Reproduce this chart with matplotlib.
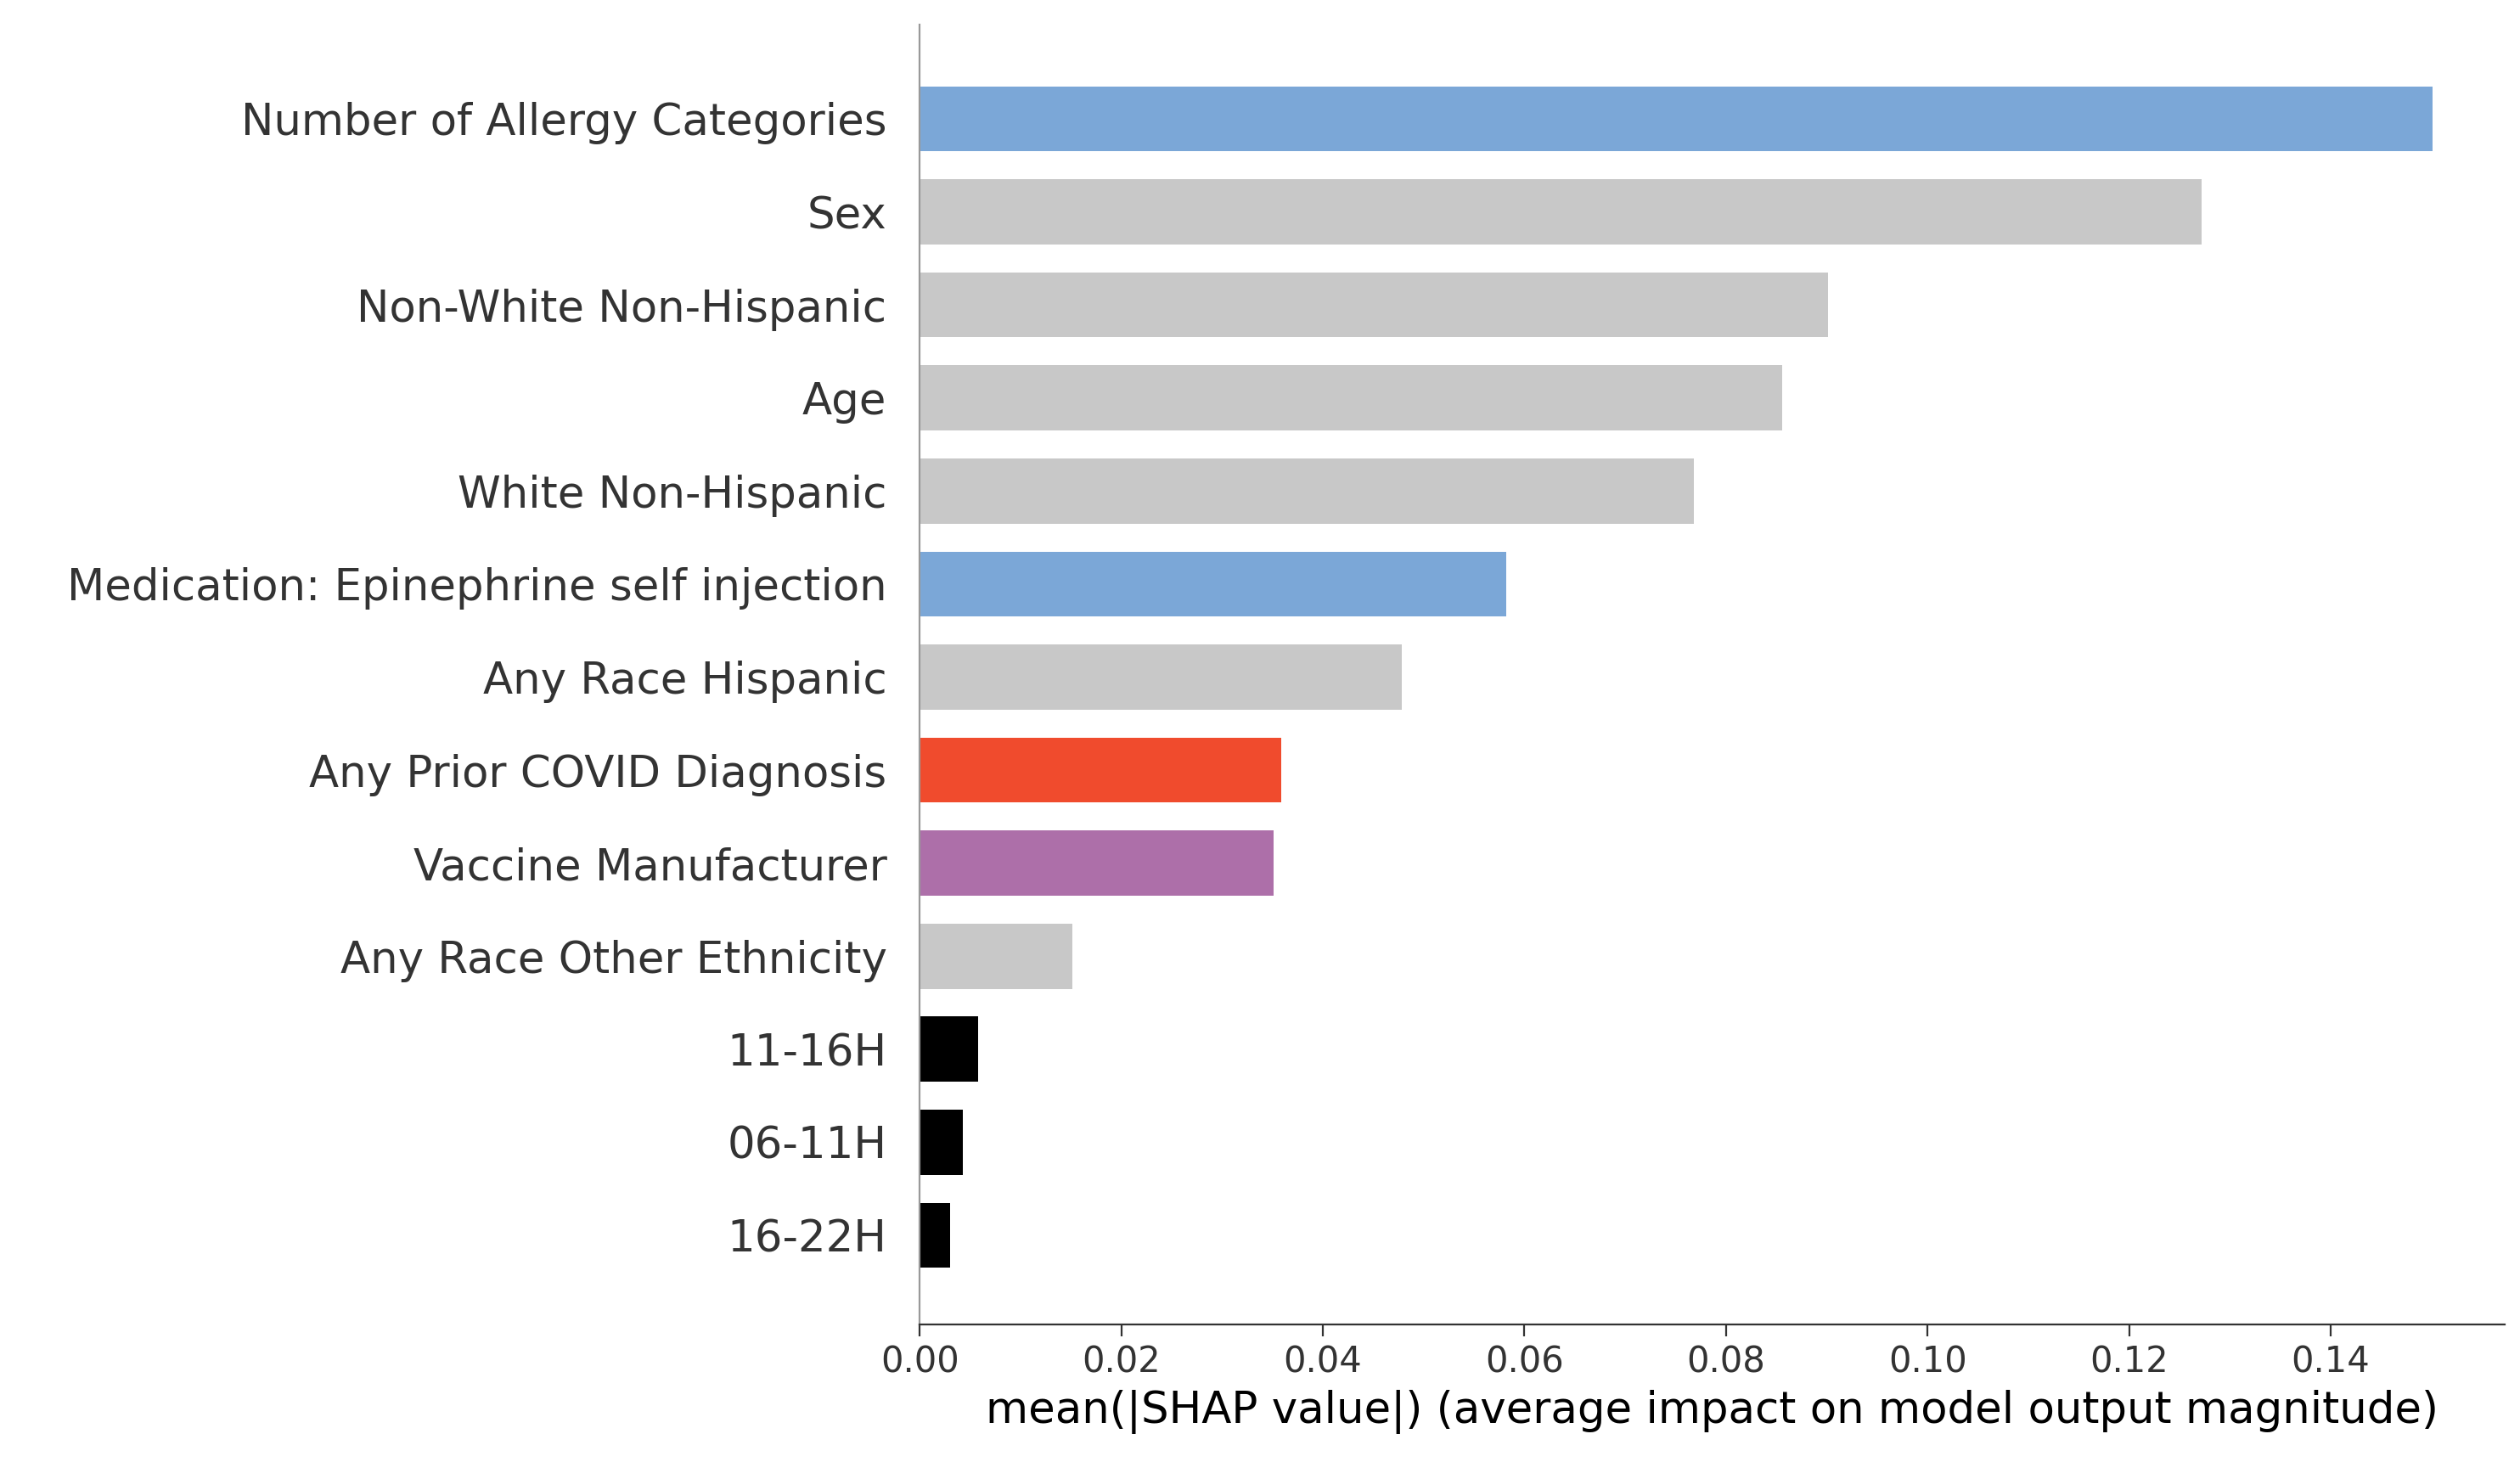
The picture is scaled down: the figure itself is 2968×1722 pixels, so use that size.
import matplotlib
matplotlib.use("Agg")
import matplotlib.pyplot as plt

features = ["Number of Allergy Categories", "Sex", "Non-White Non-Hispanic", "Age",
            "White Non-Hispanic", "Medication: Epinephrine self injection", "Any Race Hispanic",
            "Any Prior COVID Diagnosis", "Vaccine Manufacturer", "Any Race Other Ethnicity",
            "11-16H", "06-11H", "16-22H"]
values = [0.1501, 0.1272, 0.0901, 0.0856, 0.0768, 0.0582, 0.0478, 0.0359, 0.0351, 0.0151, 0.0058, 0.0043, 0.0030]
colors = ["#7BA7D7", "#C8C8C8", "#C8C8C8", "#C8C8C8", "#C8C8C8", "#7BA7D7", "#C8C8C8",
          "#F04B2D", "#AD6FA9", "#C8C8C8", "#000000", "#000000", "#000000"]

fig = plt.figure(figsize=(14.84, 8.61), dpi=200)
ax = fig.add_axes([0.365, 0.094, 0.629, 0.889])
y = list(range(len(features)))
ax.barh(y, values, height=0.7, color=colors)
ax.set_yticks(y)
ax.set_yticklabels(features, fontsize=18.5, color="#333333")
ax.set_ylim(len(features) - 1 + 0.96, -1.01)
ax.set_xlim(0, 0.1573)
ax.set_xticks([0, 0.02, 0.04, 0.06, 0.08, 0.10, 0.12, 0.14])
ax.set_xticklabels(["0.00", "0.02", "0.04", "0.06", "0.08", "0.10", "0.12", "0.14"])
ax.tick_params(axis="x", labelsize=15, colors="#333333", length=5)
ax.tick_params(axis="y", length=0, pad=14)
for s in ["top", "right"]:
    ax.spines[s].set_visible(False)
ax.spines["left"].set_color("#999999")
ax.spines["bottom"].set_color("#333333")
for yy in y:
    ax.axhline(yy, xmin=0, xmax=0, color="none")
ax.set_xlabel("mean(|SHAP value|) (average impact on model output magnitude)", fontsize=18.5)
fig.savefig("out.png", dpi=200)
